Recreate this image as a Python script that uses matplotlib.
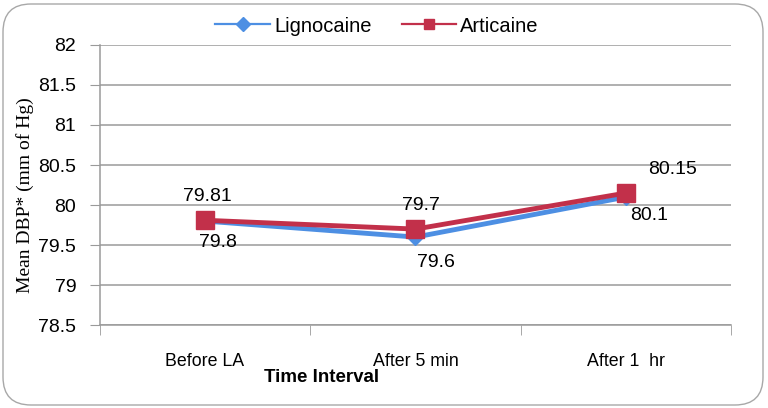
import matplotlib.pyplot as plt
from matplotlib.patches import FancyBboxPatch
from matplotlib.transforms import IdentityTransform

categories = ["Before LA", "After 5 min", "After 1  hr"]
lignocaine = [79.8, 79.6, 80.1]
articaine = [79.81, 79.7, 80.15]
lig_labels = ["79.8", "79.6", "80.1"]
art_labels = ["79.81", "79.7", "80.15"]

blue = "#4D8FE3"
red = "#C2304A"
grey = "#9A9A9A"
sans = "Liberation Sans"

fig = plt.figure(figsize=(7.68, 4.08), dpi=100)
ax = fig.add_axes([0.130, 0.203, 0.822, 0.687])

# outer rounded frame
frame = FancyBboxPatch((3, 3), 760, 401, boxstyle="round,pad=0,rounding_size=28",
                       transform=IdentityTransform(), fill=False,
                       edgecolor="#A8A8A8", linewidth=1.0)
fig.add_artist(frame)

x = range(len(categories))
ax.plot(x, lignocaine, color=blue, lw=3.5, marker="D", ms=8, label="Lignocaine", zorder=3)
ax.plot(x, articaine, color=red, lw=3.5, marker="s", ms=13, label="Articaine", zorder=4)

# data labels (offsets in pixels)
art_off = [(2, 24), (5, 24), (47, 24)]
lig_off = [(13, -21), (20, -25), (23, -18)]
for i in x:
    ax.annotate(art_labels[i], (i, articaine[i]), xytext=art_off[i], textcoords="offset pixels",
                ha="center", va="center", fontsize=14, family=sans)
    ax.annotate(lig_labels[i], (i, lignocaine[i]), xytext=lig_off[i], textcoords="offset pixels",
                ha="center", va="center", fontsize=14, family=sans)

ax.set_xlim(-0.5, 2.5)
ax.set_ylim(78.5, 82)
ax.set_yticks([78.5, 79, 79.5, 80, 80.5, 81, 81.5, 82])
ax.set_yticklabels(["78.5", "79", "79.5", "80", "80.5", "81", "81.5", "82"],
                   family=sans, fontsize=14)
ax.set_xticks(list(x))
ax.set_xticklabels(categories, family=sans, fontsize=12.8)
ax.set_xticks([-0.5, 0.5, 1.5, 2.5], minor=True)
ax.tick_params(axis="x", which="major", length=0, pad=20)
ax.tick_params(axis="x", which="minor", length=7, color=grey, direction="out")
ax.tick_params(axis="y", length=7, color=grey, direction="out", pad=10)

ax.grid(axis="y", color=grey, lw=1.1)
ax.set_axisbelow(True)
for s in ["top", "right"]:
    ax.spines[s].set_visible(False)
ax.spines["left"].set_color(grey)
ax.spines["bottom"].set_color(grey)
ax.spines["left"].set_linewidth(1.1)
ax.spines["bottom"].set_linewidth(1.1)

fig.text(25 / 768, 1 - 195 / 408, "Mean DBP* (mm of Hg)", rotation=90, ha="center", va="center",
         family="Liberation Serif", fontsize=14)
fig.text(322 / 768, 1 - 377 / 408, "Time Interval", ha="center", va="center",
         family=sans, fontweight="bold", fontsize=13.5)

fig.legend(loc="center", bbox_to_anchor=(377 / 768, 1 - 26 / 408), ncol=2, frameon=False,
           prop={"family": sans, "size": 14.5}, handlelength=2.7,
           columnspacing=1.5, handletextpad=0.2)
for h in fig.legends[0].legend_handles:
    h.set_linewidth(1.6)
    h.set_markersize(7)

fig.savefig("out.png", dpi=100)
